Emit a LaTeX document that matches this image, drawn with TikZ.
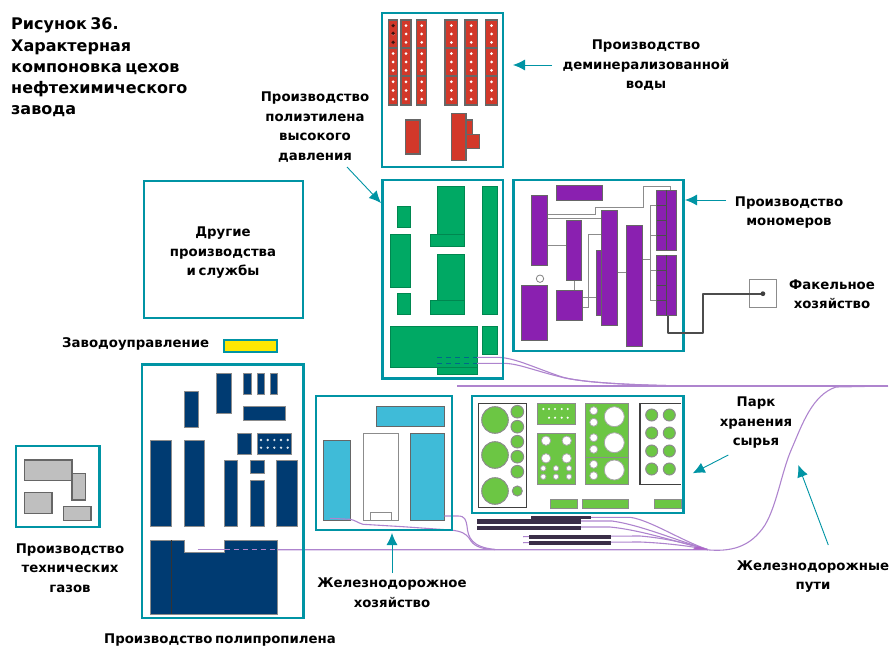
\documentclass[tikz,border=0pt]{standalone}
\usepackage{fontspec}
\setmainfont{DejaVu Sans}[BoldFont={DejaVu Sans Bold}, WordSpace=0.6]
\usetikzlibrary{arrows.meta}
\definecolor{tealframe}{HTML}{0094A4}
\definecolor{redshop}{HTML}{D2382A}
\definecolor{greenshop}{HTML}{00A964}
\definecolor{violetshop}{HTML}{8A20B0}
\definecolor{navyshop}{HTML}{003B72}
\definecolor{cyanshop}{HTML}{3FBBD8}
\definecolor{limeshop}{HTML}{6CC644}
\definecolor{railviolet}{HTML}{AE84CE}
\definecolor{trackdark}{HTML}{3A2E48}
\tikzset{
  frame/.style={draw=tealframe, line width=2.4pt, inner sep=0pt, outer sep=0pt},
  caption/.style={font=\bfseries\fontsize{13.3}{19.5}\selectfont, align=center, inner sep=0pt},
  pointer/.style={draw=tealframe, line width=0.9pt, -{Latex[length=12pt,width=11pt]}},
  redblock/.style={fill=redshop, draw=black!60, line width=1.2pt},
  greenblock/.style={fill=greenshop, draw=greenshop!80!black, line width=0.5pt},
  violetblock/.style={fill=violetshop, draw=black!60, line width=0.7pt},
  navyblock/.style={fill=navyshop, draw=black!45, line width=0.6pt},
  cyanblock/.style={fill=cyanshop, draw=black!60, line width=0.9pt},
  limeblock/.style={fill=limeshop, draw=black!45, line width=1pt},
  greyblock/.style={fill=black!25, draw=black!60, line width=1.2pt},
  pipe/.style={draw=black!45, line width=0.7pt},
  rail/.style={draw=railviolet, line width=1.1pt},
  track/.style={fill=trackdark}
}
\begin{document}
\begin{tikzpicture}[x=1pt, y=-1pt]
  \useasboundingbox (0,0) rectangle (892,647);
  % demineralised water
  \foreach \xa/\xb in {388.5/397.7, 401/411, 416.7/426.7, 445/457.7, 465/477.3, 485.7/497.3}{
    \foreach \ya/\yb in {20/48, 48/76, 76/105}{
      \draw[redblock] (\xa,\ya) rectangle (\xb,\yb);
      \foreach \k in {0.2, 0.5, 0.8}
        \fill[white] ({(\xa+\xb)/2},{\ya+\k*(\yb-\ya)}) circle (1.5);
    }
  }
  \foreach \yd in {25.6, 33.4, 42.4}
    \fill[black!70!redshop] (393.1,\yd) circle (1.9);
  \draw[redblock] (405.7,120) rectangle (420,154);
  \draw[redblock] (466,120) rectangle (472.7,134.3);
  \draw[redblock] (466,134.3) rectangle (479.3,148.3);
  \draw[redblock] (451.7,113.3) rectangle (466,160.7);
  % polyethylene
  \foreach \xa/\ya/\xb/\yb in {397/206.7/410.3/227.3, 390/234/410.3/287.3, 397/293.3/410.3/314,
    437/186.7/464/234, 430/234/464/246.7, 437/254.3/464/300, 430/300/464/314,
    482.7/186.7/497.3/314, 390/326.7/477/367.3, 437/367.3/477/374.3, 482.7/326.7/497.3/354}
    \draw[greenblock] (\xa,\ya) rectangle (\xb,\yb);
  % monomers
  \draw[pipe] (547.3,214.3) -- (595,214.3) -- (595,207.3) -- (643.3,207.3) -- (643.3,186.7) -- (670,186.7) -- (670,190);
  \draw[pipe] (547.3,218.3) -- (601,218.3);
  \draw[pipe] (547.3,245.3) -- (566.7,245.3);
  \draw[pipe] (574.3,280.7) -- (574.3,290);
  \draw[pipe] (601,234.3) -- (588.3,234.3) -- (588.3,307.3) -- (582.3,307.3);
  \draw[pipe] (582.3,297.7) -- (596,297.7);
  \draw[pipe] (617,272.3) -- (626,272.3);
  \draw[pipe] (642.3,259.3) -- (650,259.3);
  \draw[pipe] (656.7,205) -- (650,205) -- (650,300.7) -- (656.7,300.7);
  \draw[pipe] (650,235) -- (656.7,235);
  \draw[pipe] (650,270.7) -- (656.7,270.7);
  \foreach \xa/\ya/\xb/\yb in {556.7/185/602/200.7, 531.7/195/547.3/265.7, 566.7/220/581.7/280.7,
    596/250/601/315, 601/210.7/617/325.7, 626/225.7/642.3/346, 656.7/190/676.7/250,
    656.7/255/676.7/315.7, 556.7/290/582.3/320.7, 521.7/285/547.3/340.7}
    \draw[violetblock] (\xa,\ya) rectangle (\xb,\yb);
  \draw[black!70, line width=0.7pt] (666.7,190) -- (666.7,250);
  \draw[black!70, line width=0.7pt] (666.7,255) -- (666.7,315.7);
  \foreach \yl in {205, 220, 235, 270.7, 285.7, 300.7}
    \draw[black!70, line width=0.7pt] (656.7,\yl) -- (666.7,\yl);
  \draw[black!50, line width=0.8pt] (540,278.7) circle (3.7);
  % polypropylene and neighbours
  \foreach \xa/\ya/\xb/\yb in {216.7/373.3/231.3/413.3, 243.7/373.3/251/394, 257/373.3/264.3/394,
    270.3/373.3/277.7/394, 243.7/406.7/285/420.7, 184/391/198/427.3, 150.7/440/171.7/526.7,
    184/440/204.7/526.7, 237/433.3/251/454, 257/433.3/291/454, 224/460/237.7/526.7,
    250.7/460/264.3/473.3, 250.7/480/264.3/526.7, 276.7/460/297.7/526.7}
    \draw[navyblock] (\xa,\ya) rectangle (\xb,\yb);
  \foreach \xd in {261, 267.7, 274.3, 281, 287.7}
    \foreach \yd in {440, 447.7}
      \fill[white!85!navyshop] (\xd,\yd) circle (1.3);
  \draw[navyblock] (150.7,540) -- (184,540) -- (184,552.7) -- (224.7,552.7) -- (224.7,540)
    -- (277.7,540) -- (277.7,614) -- (150.7,614) -- cycle;
  \draw[black!80, line width=0.6pt] (171.7,540) -- (171.7,614);
  % railway facilities
  \draw[cyanblock] (376.7,406.7) rectangle (444.3,426.7);
  \draw[cyanblock] (323.3,440) rectangle (350.7,520.7);
  \draw[cyanblock] (410,433.3) rectangle (444.3,520.7);
  \draw[black!45, line width=0.9pt] (363.3,433.3) rectangle (398.3,520.7);
  \draw[black!45, line width=0.9pt] (370.7,520.7) -- (370.7,512.7) -- (391,512.7) -- (391,520.7);
  % raw material park
  \draw[black!75, line width=1.2pt] (478.3,403.3) rectangle (526.7,507.7);
  \foreach \yc in {420, 455, 491}
    \draw[limeblock] (495,\yc) circle (13.3);
  \foreach \yc/\rc in {411.7/6.3, 426.7/6.3, 441.7/6.3, 456.7/6.3, 471.7/6.3, 491/5}
    \draw[limeblock] (517.3,\yc) circle (\rc);
  \draw[limeblock] (537.7,403.3) rectangle (575,424.3);
  \foreach \xd in {543.3, 549, 555, 561.7, 567.7}
    \fill[white] (\xd,409) circle (1.2);
  \foreach \xd in {549, 555, 561.7, 567.7}
    \fill[white] (\xd,417.7) circle (1.2);
  \draw[limeblock] (537.7,433.3) rectangle (575,484.3);
  \foreach \xc in {546, 566.7}
    \foreach \yc in {440.7, 458.3}
      \draw[fill=white, draw=black!35, line width=0.8pt] (\xc,\yc) circle (4.7);
  \foreach \xc in {543.3, 556, 569}
    \foreach \yc in {468.3, 476.7}
      \draw[fill=white, draw=black!35, line width=0.8pt] (\xc,\yc) circle (2.7);
  \draw[limeblock] (585.7,403.3) rectangle (628.3,484.3);
  \draw[black!45, line width=0.8pt] (585.7,457.3) -- (628.3,457.3);
  \foreach \yc in {416.7, 442.7, 470}
    \draw[fill=white, draw=black!35, line width=0.8pt] (614.3,\yc) circle (10);
  \foreach \yc in {410.7, 422.3, 437.7, 449.3, 464.3, 475.7}
    \draw[fill=white, draw=black!35, line width=0.8pt] (593.7,\yc) circle (4);
  \draw[black!75, line width=1.2pt] (681,403.3) -- (640,403.3) -- (640,484.3) -- (681,484.3);
  \foreach \xc in {651.7, 669.3}
    \foreach \yc in {415, 433, 451, 469}
      \draw[limeblock] (\xc,\yc) circle (6);
  \foreach \xa/\xb in {550/577.3, 582.7/628.3, 654.3/681}
    \draw[limeblock] (\xa,499) rectangle (\xb,508.3);
  % technical gases
  \draw[greyblock] (24.3,460) rectangle (72,480.7);
  \draw[greyblock] (72,473.3) rectangle (85.3,500);
  \draw[greyblock] (24.3,492.7) rectangle (52,513.3);
  \draw[greyblock] (63.3,506.7) rectangle (91,520.7);
  % rails
  \draw[rail] (457,386) -- (888,386);
  \draw[rail] (477,357.3) -- (498,357.3) .. controls (515,358) and (530,366) .. (562,377) .. controls (580,382) and (620,385) .. (690,386);
  \draw[rail] (477,363.3) -- (505,363.3) .. controls (520,364) and (535,371) .. (565,378) .. controls (585,382) and (620,385) .. (690,386);
  \draw[tealframe!50!navyshop, line width=1.1pt, dash pattern=on 5pt off 4pt] (437,357.3) -- (477,357.3);
  \draw[tealframe!50!navyshop, line width=1.1pt, dash pattern=on 5pt off 4pt] (437,363.3) -- (477,363.3);
  \draw[rail] (197.7,549.7) -- (224.7,549.7);
  \draw[rail] (277.7,549.7) -- (706,549.7) .. controls (730,552) and (750,548) .. (765,525) .. controls (777,505) and (782,470) .. (792,448) .. controls (802,425) and (812,395) .. (836,387) -- (888,386);
  \draw[railviolet, line width=1.1pt, dash pattern=on 5pt off 4pt] (224.7,549.7) -- (277.7,549.7);
  \draw[rail] (330,518.3) -- (350,519.3) .. controls (355,520) and (358,523) .. (363,524.3) -- (403,526.7) -- (450,530) .. controls (462,531) and (466,534) .. (469,538) .. controls (473,545) and (478,549) .. (495,549.5);
  \draw[rail] (444.3,516) -- (458,516) .. controls (465,516) and (466,520) .. (467,526) .. controls (468,538) and (472,547) .. (495,549.5);
  \draw[rail] (591,517.3) -- (630,517.3) .. controls (650,520) and (680,540) .. (708,549.7);
  \draw[rail] (581,521) -- (612,521) .. controls (640,525) and (670,538) .. (708,549.7);
  \draw[rail] (581,527) -- (610,527) .. controls (640,530) and (670,540) .. (708,549.7);
  \draw[rail] (523,536.7) -- (640,536) .. controls (665,538) and (690,544) .. (708,549.7);
  \draw[rail] (523,542.7) -- (640,542) .. controls (665,543) and (690,546) .. (708,549.7);
  \fill[violetshop!70, rounded corners=1pt] (692,549.7) -- (708,549.7) -- (698,546) -- cycle;
  \fill[track] (531,515.8) rectangle (591,519.3);
  \fill[track] (477.3,519.3) rectangle (581,524);
  \fill[track] (477.3,525.5) rectangle (581,529.6);
  \fill[track] (529.3,534.5) rectangle (610.7,539);
  \fill[track] (529.3,540.5) rectangle (610.7,544.5);
  % frames
  \node[frame, minimum width=121pt, minimum height=154pt] (frameWater) at (442.5,90) {};
  \node[frame, minimum width=120.3pt, minimum height=198.3pt] (framePoly) at (442.8,279.2) {};
  \node[frame, minimum width=170pt, minimum height=171pt] (frameMono) at (598.3,265.5) {};
  \node[frame, minimum width=159pt, minimum height=137pt] (frameOther) at (223.5,249.5) {};
  \node[frame, minimum width=161.6pt, minimum height=253.4pt] (frameProp) at (222.5,491) {};
  \node[frame, minimum width=136pt, minimum height=134.3pt] (frameRail) at (383.7,462.9) {};
  \node[frame, minimum width=211.6pt, minimum height=117pt] (framePark) at (577.5,454.2) {};
  \node[frame, minimum width=83.6pt, minimum height=81pt] (frameGas) at (57.5,486.2) {};
  \node[frame, fill=yellow!90!orange, minimum width=53pt, minimum height=12pt, line width=1.6pt] (frameOffice) at (250.5,346) {};
  \node[draw=black!45, line width=0.9pt, inner sep=0pt, minimum size=27.5pt] (flareBox) at (762.9,293.7) {};
  % flare line
  \coordinate (monoOut) at (668.3,315.7);
  \draw[black!70, line width=1.9pt, line join=round] (monoOut) -- (668.3,333.3) -- (702.7,333.3) -- (702.7,293.7) -- (flareBox.center);
  \fill[black!75] (flareBox.center) circle (2.4);
  % labels
  \node[caption, font=\bfseries\fontsize{16}{21.3}\selectfont, align=left, anchor=west] (title) at (11,67.5) {Рисунок 36.\\Характерная\\компоновка цехов\\нефтехимического\\завода};
  \node[caption] (lblWater) at (646,65.5) {Производство\\деминерализованной\\воды};
  \node[caption] (lblPoly) at (315,127) {Производство\\полиэтилена\\высокого\\давления};
  \node[caption] (lblMono) at (789,212.5) {Производство\\мономеров};
  \node[caption] (lblOther) at (223,253) {Другие\\производства\\и службы};
  \node[caption] (lblFlare) at (832,294) {Факельное\\хозяйство};
  \node[caption, anchor=west] (lblOffice) at (62,344) {Заводоуправление};
  \node[caption] (lblPark) at (756,423) {Парк\\хранения\\сырья};
  \node[caption] (lblGas) at (70,568) {Производство\\технических\\газов};
  \node[caption] (lblDepot) at (392,592.5) {Железнодорожное\\хозяйство};
  \node[caption] (lblTracks) at (813,576.5) {Железнодорожные\\пути};
  \node[caption] (lblProp) at (220,640) {Производство полипропилена};
  % pointers
  \coordinate (tailWater) at (552,65);
  \coordinate (tipWater) at (513,65);
  \coordinate (tailPoly) at (347,167);
  \coordinate (tipPoly) at (381,203);
  \coordinate (tailMono) at (726,200);
  \coordinate (tipMono) at (685,200);
  \coordinate (tailPark) at (728.3,455);
  \coordinate (tipPark) at (692.7,473.3);
  \coordinate (tailDepot) at (392,573);
  \coordinate (tipDepot) at (392,533);
  \coordinate (tailTracks) at (828.3,545);
  \coordinate (tipTracks) at (798.3,465);
  \draw[pointer] (tailWater) -- (tipWater);
  \draw[pointer] (tailPoly) -- (tipPoly);
  \draw[pointer] (tailMono) -- (tipMono);
  \draw[pointer] (tailPark) -- (tipPark);
  \draw[pointer] (tailDepot) -- (tipDepot);
  \draw[pointer] (tailTracks) -- (tipTracks);
\end{tikzpicture}
\end{document}
